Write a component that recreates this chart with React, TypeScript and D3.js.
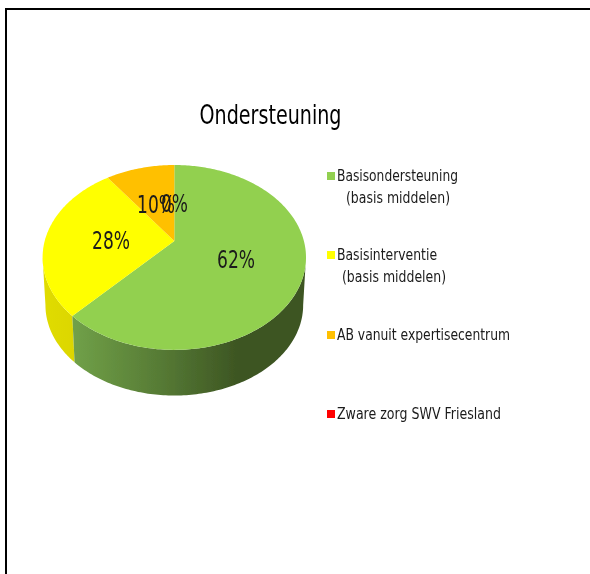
import React from "react";
import * as d3 from "d3";

const title = "Ondersteuning";
const categories = ["Basisondersteuning", "Basisinterventie", "AB vanuit expertisecentrum", "Zware zorg SWV Friesland"];
const values = [62, 28, 10, 0];
const colors = ["#92d050", "#ffff00", "#ffc000", "#ff0000"];
const legendSecondLines = ["(basis middelen)", "(basis middelen)", "", ""];

const W = 590, H = 574;
const cx = 174.3, apexY = 241, a = 129.6, b = 89.5, k = 0.178, depth = 48;

type P = [number, number];
const project = (t: number, dz: number): P => {
  const u = Math.sin(t), v = -Math.cos(t), w = 1 - k * v;
  const s = 1 - dz * 0.00045;
  return [cx + (s * a * u) / w, apexY + (s * b * v) / w + dz];
};
const line = d3.line<P>().x((d) => d[0]).y((d) => d[1]);
const arcPts = (a0: number, a1: number, dz: number): P[] => {
  const n = Math.max(2, Math.ceil((a1 - a0) * 60));
  return d3.range(n + 1).map((i) => project(a0 + ((a1 - a0) * i) / n, dz));
};
const arcs = d3.pie<number>().sort(null)(values);
// The wall is only visible between the two silhouette angles of the projected circle.
const tangentRight = Math.acos(-k);
const tangentLeft = 2 * Math.PI - tangentRight;

const wallGrad: [string, [number, string][]][] = [
  ["wall0", [[0, "#70a048"], [0.35, "#587d36"], [0.72, "#3c5422"], [1, "#3d5522"]]],
  ["wall1", [[0, "#e0dc00"], [1, "#dcd600"]]],
];
const wallRange: [number, number][] = [[74, 306], [43, 76]];

const font = '"DejaVu Sans", sans-serif';
const Fit = ({ x, y, w, size, children, fill = "#1a1a1a" }: any) => (
  <text x={x} y={y} fontFamily={font} fontSize={size} fill={fill} textLength={w} lengthAdjust="spacingAndGlyphs" filter="url(#soft)">{children}</text>
);

const labelPos: P[] = [[217, 268], [92, 249], [137, 213], [161, 212]];
const labelW = [38, 38, 38, 27];
const legendY = [181, 260, 340, 419];
const legendW = [121, 100, 173, 164];
const secondX = [346, 342, 0, 0];

export default function App() {
  return (
    <svg width={W} height={H} style={{ position: "absolute", left: 0, top: 0, background: "#fff" }}>
      <defs>
        <filter id="soft" x="-5%" y="-20%" width="110%" height="140%"><feGaussianBlur stdDeviation="0.4" /></filter>
        {wallGrad.map(([id, stops], i) => (
          <linearGradient key={id} id={id} gradientUnits="userSpaceOnUse" x1={wallRange[i][0]} x2={wallRange[i][1]} y1={0} y2={0}>
            {stops.map(([o, c]) => <stop key={o} offset={o} stopColor={c} />)}
          </linearGradient>
        ))}
      </defs>
      <path d="M6,574V9H590" fill="none" stroke="#000" strokeWidth={2} />
      <Fit x={199.5} y={124} w={142} size={27} fill="#000">{title}</Fit>

      <g filter="url(#soft)">
        {[1, 0].map((i) => {
          const s = arcs[i];
          const a0 = Math.max(s.startAngle, tangentRight);
          const a1 = Math.min(s.endAngle, tangentLeft);
          const top = arcPts(a0, a1, 0);
          const bottom = arcPts(a0, a1, depth).reverse();
          return <path key={i} d={line([...top, ...bottom])! + "Z"} fill={`url(#wall${i})`} />;
        })}
        {arcs.map((s, i) => (
          <path key={i} d={line([[cx, apexY] as P, ...arcPts(s.startAngle, s.endAngle, 0)])! + "Z"} fill={colors[i]} />
        ))}
      </g>
      {values.map((v, i) => (
        <Fit key={i} x={labelPos[i][0]} y={labelPos[i][1]} w={labelW[i]} size={24}>{`${v}%`}</Fit>
      ))}
      {categories.map((c, i) => (
        <g key={c}>
          <rect x={327} y={legendY[i] - 9} width={8} height={8} fill={colors[i]} />
          <Fit x={337} y={legendY[i]} w={legendW[i]} size={16}>{c}</Fit>
          {legendSecondLines[i] && <Fit x={secondX[i]} y={legendY[i] + 22} w={104} size={16}>{legendSecondLines[i]}</Fit>}
        </g>
      ))}
    </svg>
  );
}
